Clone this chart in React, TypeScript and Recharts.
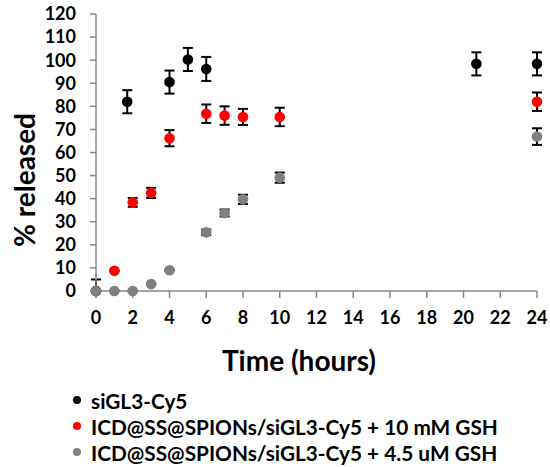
import { ScatterChart, Scatter, XAxis, YAxis, ErrorBar } from 'recharts'

// siGL3-Cy5 alone
const hoursFree = [0, 1.7, 4, 5, 6, 20.7, 24]
const releasedFree = [0, 82, 90.5, 100.3, 96.2, 98.4, 98.4]
const errFree = [5, 5, 5, 5, 5.2, 5, 5]

// + 10 mM GSH
const hours10mM = [0, 1, 2, 3, 4, 6, 7, 8, 10, 24]
const released10mM = [0, 8.8, 38.4, 42.5, 66.2, 76.8, 76, 75.4, 75.4, 82]
const err10mM = [0, 0, 1.9, 2.2, 3.5, 4, 4, 3.5, 4, 4]

// + 4.5 uM GSH
const hours45uM = [0, 1, 2, 3, 4, 6, 7, 8, 10, 24]
const released45uM = [0, 0, 0, 3, 9, 25.4, 33.8, 39.7, 49.1, 66.9]
const err45uM = [0, 0, 0, 0, 0, 1.2, 1.5, 2, 2.2, 3.6]

const xTicks = [0, 2, 4, 6, 8, 10, 12, 14, 16, 18, 20, 22, 24]
const yTicks = [0, 10, 20, 30, 40, 50, 60, 70, 80, 90, 100, 110, 120]

const seriesNames = [
  'siGL3-Cy5',
  'ICD@SS@SPIONs/siGL3-Cy5 + 10 mM GSH',
  'ICD@SS@SPIONs/siGL3-Cy5 + 4.5 uM GSH',
]
const seriesColors = ['#000000', '#ff0000', '#808080']

// lower whisker stops at the axis (0), like the original plot area clip
const toPoints = (xs: number[], ys: number[], errs: number[]) =>
  xs.map((x, i) => ({ x, y: ys[i], err: [Math.min(errs[i], ys[i]), errs[i]] }))

const series = [
  toPoints(hoursFree, releasedFree, errFree),
  toPoints(hours10mM, released10mM, err10mM),
  toPoints(hours45uM, released45uM, err45uM),
]

const FONT = 'Lato, "Open Sans", sans-serif'
const AXIS = '#888888'

function Dot(props: any) {
  const { cx, cy, fill } = props
  return <circle cx={cx} cy={cy} r={5.3} fill={fill} />
}

function LegendBox() {
  return (
    <div style={{
      position: 'absolute', left: 73, top: 387,
      fontFamily: FONT, fontWeight: 700, fontSize: 20.8, color: '#000'
    }}>
      {seriesNames.map((name, i) => (
        <div key={name} style={{ display: 'flex', alignItems: 'center', height: 26, whiteSpace: 'nowrap' }}>
          <span style={{
            width: 8, height: 8, borderRadius: 4, background: seriesColors[i],
            marginRight: 10, display: 'inline-block'
          }} />
          {name}
        </div>
      ))}
    </div>
  )
}

export default function App() {
  return (
    <div style={{ position: 'absolute', left: 0, top: 0, width: 550, height: 467, background: '#fff' }}>
      <ScatterChart width={550} height={467}
        margin={{ top: 14, right: 13, bottom: 136, left: 0 }}>
        <XAxis type="number" dataKey="x" domain={[0, 24]} ticks={xTicks} interval={0}
          height={40} tickSize={7} tickMargin={13}
          stroke={AXIS} strokeWidth={1.5}
          tick={{ fontFamily: FONT, fontWeight: 700, fontSize: 18, fill: '#000' }}
          label={{
            content: () => (
              <text x={299} y={360} textAnchor="middle" dominantBaseline="central"
                fontFamily={FONT} fontWeight={700} fontSize={28} fill="#000">
                Time (hours)
              </text>
            )
          }} />
        <YAxis type="number" dataKey="y" domain={[0, 120]} ticks={yTicks} interval={0}
          width={96} tickSize={6} tickMargin={14}
          stroke={AXIS} strokeWidth={1.5}
          tick={{ fontFamily: FONT, fontWeight: 700, fontSize: 18, fill: '#000' }}
          label={{
            content: () => (
              <text transform="translate(24,180) rotate(-90)" textAnchor="middle"
                dominantBaseline="central"
                fontFamily={FONT} fontWeight={700} fontSize={28} fill="#000">
                % released
              </text>
            )
          }} />
        {series.map((pts, i) => (
          <Scatter key={seriesNames[i]} name={seriesNames[i]} data={pts}
            fill={seriesColors[i]} shape={<Dot />} isAnimationActive={false}>
            <ErrorBar dataKey="err" direction="y" width={5} stroke="#000"
              strokeWidth={2} isAnimationActive={false} />
          </Scatter>
        ))}
      </ScatterChart>
      <LegendBox />
    </div>
  )
}
